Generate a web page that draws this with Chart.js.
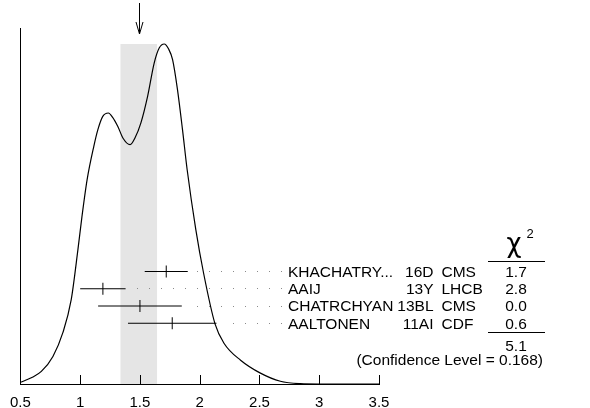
<!DOCTYPE html>
<html>
<head>
<meta charset="utf-8">
<script src="https://cdn.jsdelivr.net/npm/chart.js@4.4.1/dist/chart.umd.min.js"></script>
<style>
  html, body { margin: 0; padding: 0; background: #fff; }
  #wrap { width: 590px; height: 408px; position: relative; }
  canvas { display: block; }
</style>
</head>
<body>
<div id="wrap"><canvas id="ideogram" width="590" height="408"></canvas></div>
<script>
// ideogram curve (peak = 1)
const curveX = [0.5, 0.6, 0.675, 0.772, 0.855, 0.925, 0.981, 1.014, 1.058, 1.114, 1.148, 1.189, 1.236,
    1.27, 1.314, 1.36, 1.417, 1.46, 1.508, 1.564, 1.619, 1.661, 1.703, 1.74, 1.773, 1.814, 1.856,
    1.895, 1.967, 2.033, 2.128, 2.203, 2.342, 2.508, 2.675, 2.842, 3.0, 3.5];
const curveY = [0.005, 0.02, 0.037, 0.081, 0.151, 0.248, 0.395, 0.49, 0.601, 0.699, 0.748, 0.787, 0.797,
    0.785, 0.758, 0.722, 0.704, 0.725, 0.768, 0.846, 0.944, 0.988, 1.0, 0.985, 0.954, 0.866, 0.748,
    0.63, 0.455, 0.325, 0.177, 0.12, 0.07, 0.032, 0.008, 0.001, 0, 0];

// measurements
const names = ['KHACHATRY...', 'AAIJ', 'CHATRCHYAN', 'AALTONEN'];
const docIds = ['16D', '13Y', '13BL', '11AI'];
const experiments = ['CMS', 'LHCB', 'CMS', 'CDF'];
const values = [1.72, 1.19, 1.50, 1.77];
const errors = [0.18, 0.19, 0.35, 0.37];
const chi2 = ['1.7', '2.8', '0.0', '0.6'];
const chi2Total = '5.1';
const confidenceLevel = '0.168';

// weighted average and its (scaled) error
const average = 1.49;
const averageError = 0.153;

const FONT = '"Liberation Sans", Arial, sans-serif';
const rowY0 = 271.5;    // first table row
const rowStep = 17.25;  // row spacing

const curvePoints = curveX.map((x, i) => ({ x: x, y: curveY[i] }));

// grey band, arrow, inward ticks, error bars and the table
const ideogramPlugin = {
    id: 'ideogram',
    beforeDatasetsDraw(chart) {
        const ctx = chart.ctx;
        const xs = chart.scales.x;
        const ys = chart.scales.y;
        const peak = Math.max(...curveY);
        const left = xs.getPixelForValue(average - averageError);
        const right = xs.getPixelForValue(average + averageError);
        const top = ys.getPixelForValue(peak);
        ctx.save();
        ctx.fillStyle = '#e5e5e5';
        ctx.fillRect(left, top, right - left, ys.getPixelForValue(0) - top);
        ctx.restore();
    },
    afterDatasetsDraw(chart) {
        const ctx = chart.ctx;
        const xs = chart.scales.x;
        const bottom = chart.chartArea.bottom;
        ctx.save();

        // tick marks pointing up into the plot
        ctx.strokeStyle = '#000';
        ctx.lineWidth = 1;
        xs.ticks.forEach((t) => {
            const px = Math.round(xs.getPixelForValue(t.value)) + 0.5;
            ctx.beginPath();
            ctx.moveTo(px, bottom);
            ctx.lineTo(px, bottom - 9);
            ctx.stroke();
        });

        // arrow at the average
        const ax = Math.round(xs.getPixelForValue(average)) + 0.5;
        ctx.beginPath();
        ctx.moveTo(ax, 3);
        ctx.lineTo(ax, 34);
        ctx.moveTo(ax - 3.5, 22);
        ctx.lineTo(ax, 34);
        ctx.lineTo(ax + 3.5, 22);
        ctx.stroke();

        // error bars with dotted leaders
        const dotEnd = 281;
        values.forEach((v, i) => {
            const y = rowY0 + i * rowStep;
            const lo = xs.getPixelForValue(v - errors[i]);
            const hi = xs.getPixelForValue(v + errors[i]);
            const c = xs.getPixelForValue(v);
            ctx.strokeStyle = '#000';
            ctx.beginPath();
            ctx.moveTo(lo, y);
            ctx.lineTo(hi, y);
            ctx.moveTo(c, y - 6);
            ctx.lineTo(c, y + 6);
            ctx.stroke();
            ctx.fillStyle = '#8a8a8a';
            for (let dx = dotEnd; dx >= hi + 9; dx -= 12) {
                ctx.fillRect(dx, Math.floor(y), 1, 1);
            }
        });

        // table text
        ctx.fillStyle = '#000';
        ctx.textBaseline = 'middle';
        ctx.font = '15.5px ' + FONT;
        const spaceW = ctx.measureText(' ').width;
        names.forEach((n, i) => {
            const y = rowY0 + i * rowStep + 1;
            ctx.textAlign = 'left';
            ctx.fillText(n, 288, y);
            const nameEnd = 288 + ctx.measureText(n).width;
            const idW = ctx.measureText(docIds[i]).width;
            ctx.fillText(docIds[i], Math.max(433.5 - idW, nameEnd + spaceW * 0.6), y);
            ctx.fillText(experiments[i], 441.5, y);
            ctx.textAlign = 'center';
            ctx.fillText(chi2[i], 516, y);
        });
        ctx.fillText(chi2Total, 516, 347);
        ctx.textAlign = 'right';
        ctx.fillText('(Confidence Level = ' + confidenceLevel + ')', 543, 361);

        // chi-square header and rules
        ctx.textAlign = 'center';
        ctx.font = '26px "DejaVu Sans", ' + FONT;
        ctx.fillText('\u03c7', 514, 245);
        ctx.font = '13px ' + FONT;
        ctx.fillText('2', 530, 234);
        ctx.beginPath();
        ctx.moveTo(488, 261.5);
        ctx.lineTo(545, 261.5);
        ctx.moveTo(488, 332.5);
        ctx.lineTo(545, 332.5);
        ctx.stroke();

        ctx.restore();
    }
};

const ctx = document.getElementById('ideogram').getContext('2d');
const ideogramChart = new Chart(ctx, {
    type: 'line',
    data: {
        datasets: [{
            data: curvePoints,
            borderColor: '#000',
            borderWidth: 1.2,
            pointRadius: 0,
            fill: false,
            cubicInterpolationMode: 'monotone'
        }]
    },
    options: {
        responsive: false,
        animation: false,
        layout: { padding: { left: 19, top: 28, right: 211, bottom: 0 } },
        plugins: {
            legend: { display: false },
            tooltip: { enabled: false }
        },
        scales: {
            x: {
                type: 'linear',
                min: 0.5,
                max: 3.5,
                grid: { display: false, drawTicks: false },
                border: { display: true, color: '#000', width: 1 },
                ticks: {
                    stepSize: 0.5,
                    color: '#000',
                    padding: 10,
                    font: { family: FONT, size: 15 },
                    maxRotation: 0,
                    autoSkip: false,
                    callback: (v) => String(Number(v))
                },
                afterFit(scale) { scale.height = 24; }
            },
            y: {
                min: 0,
                max: 1.047,
                grid: { display: false, drawTicks: false },
                border: { display: true, color: '#000', width: 1 },
                ticks: { display: false },
                afterFit(scale) { scale.width = 0; }
            }
        }
    },
    plugins: [ideogramPlugin]
});
</script>
</body>
</html>
